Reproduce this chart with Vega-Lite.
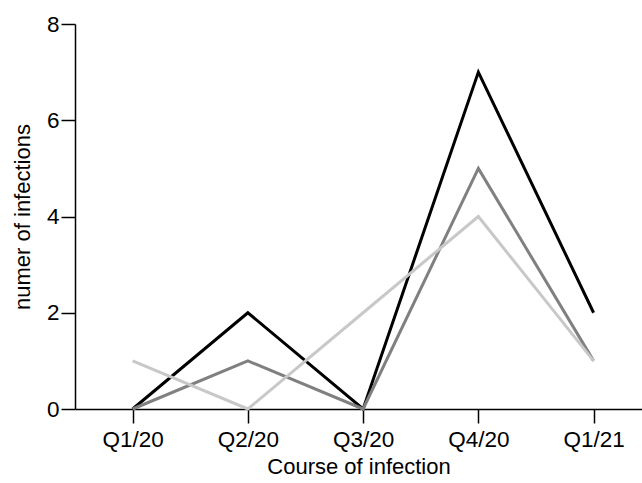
{
  "$schema": "https://vega.github.io/schema/vega-lite/v6.json",
  "autosize": "none",
  "width": 567,
  "height": 385,
  "padding": {"left": 75, "top": 24, "right": 0, "bottom": 74},
  "background": "white",
  "config": {
    "view": {"stroke": null},
    "font": "Liberation Sans",
    "axis": {
      "grid": false,
      "domainColor": "black",
      "domainWidth": 1.5,
      "tickColor": "black",
      "tickWidth": 1.5,
      "tickSize": 14,
      "labelFontSize": 22.5,
      "labelColor": "black",
      "titleFontSize": 22,
      "titleFontWeight": "normal",
      "titleColor": "black"
    }
  },
  "data": {
    "values": [
      {"series": "a", "idx": 1, "quarter": "Q1/20", "value": 0},
      {"series": "a", "idx": 2, "quarter": "Q2/20", "value": 2},
      {"series": "a", "idx": 3, "quarter": "Q3/20", "value": 0},
      {"series": "a", "idx": 4, "quarter": "Q4/20", "value": 7},
      {"series": "a", "idx": 5, "quarter": "Q1/21", "value": 2},
      {"series": "b", "idx": 1, "quarter": "Q1/20", "value": 0},
      {"series": "b", "idx": 2, "quarter": "Q2/20", "value": 1},
      {"series": "b", "idx": 3, "quarter": "Q3/20", "value": 0},
      {"series": "b", "idx": 4, "quarter": "Q4/20", "value": 5},
      {"series": "b", "idx": 5, "quarter": "Q1/21", "value": 1},
      {"series": "c", "idx": 1, "quarter": "Q1/20", "value": 1},
      {"series": "c", "idx": 2, "quarter": "Q2/20", "value": 0},
      {"series": "c", "idx": 3, "quarter": "Q3/20", "value": 2},
      {"series": "c", "idx": 4, "quarter": "Q4/20", "value": 4},
      {"series": "c", "idx": 5, "quarter": "Q1/21", "value": 1}
    ]
  },
  "mark": {"type": "line", "strokeWidth": 3, "strokeCap": "butt", "strokeJoin": "miter", "clip": false},
  "encoding": {
    "x": {
      "field": "idx",
      "type": "quantitative",
      "scale": {"domain": [0.5, 5.42], "nice": false, "zero": false},
      "axis": {
        "values": [1, 2, 3, 4, 5],
        "labelExpr": "['Q1/20','Q2/20','Q3/20','Q4/20','Q1/21'][datum.value-1]",
        "title": "Course of infection",
        "labelPadding": 5,
        "titlePadding": 6
      }
    },
    "y": {
      "field": "value",
      "type": "quantitative",
      "scale": {"domain": [0, 8], "nice": false},
      "axis": {
        "values": [0, 2, 4, 6, 8],
        "title": "numer of infections",
        "labelPadding": 2,
        "titlePadding": 12
      }
    },
    "color": {
      "field": "series",
      "type": "nominal",
      "scale": {"domain": ["a", "b", "c"], "range": ["#000000", "#808080", "#c8c8c8"]},
      "legend": null
    }
  }
}
